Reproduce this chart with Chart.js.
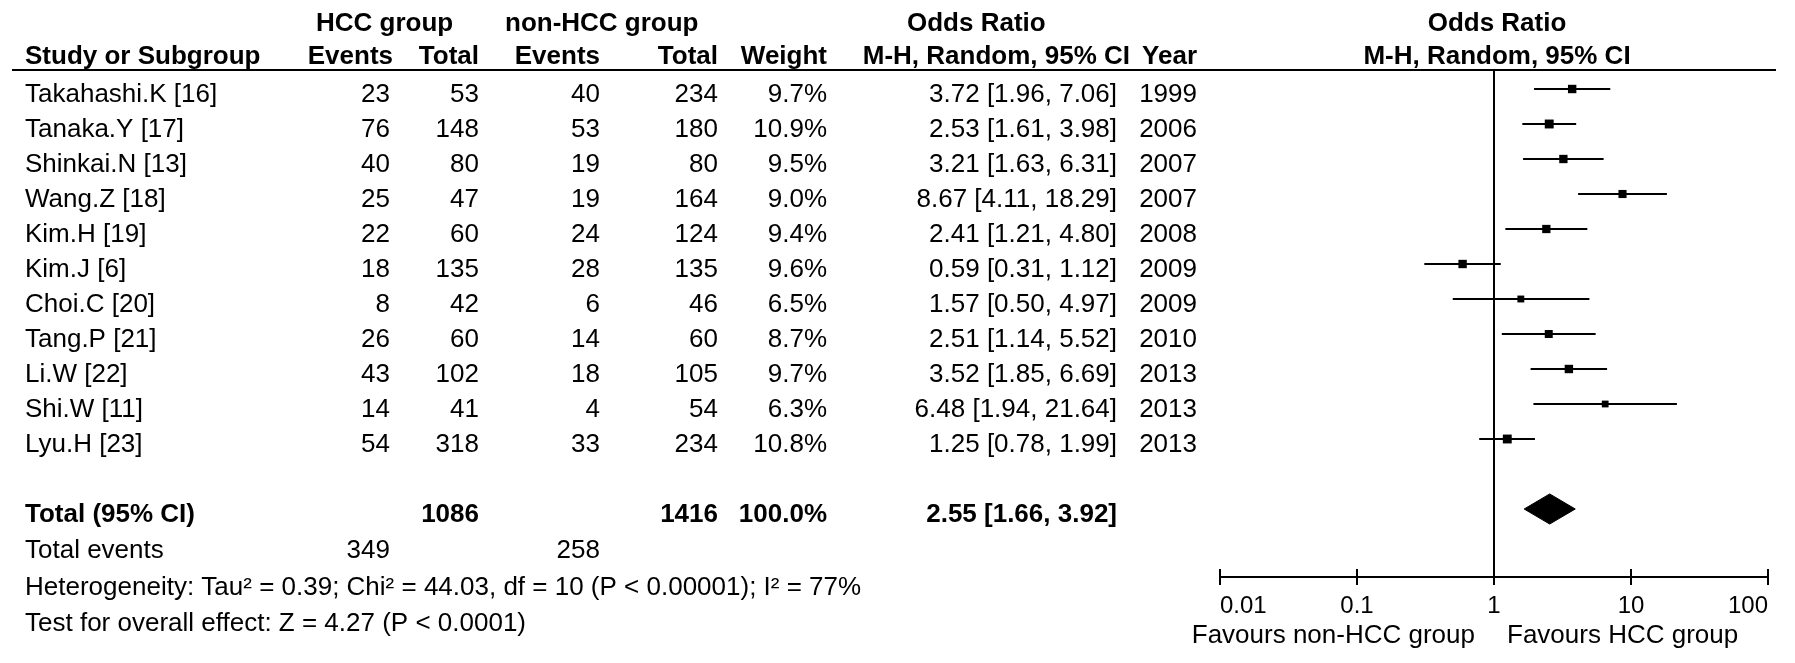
<!DOCTYPE html>
<html>
<head>
<meta charset="utf-8">
<script src="https://cdn.jsdelivr.net/npm/chart.js@4.4.0/dist/chart.umd.min.js"></script>
<style>
html,body{margin:0;padding:0;background:#fff;}
#wrap{width:1795px;height:663px;position:relative;}
</style>
</head>
<body>
<div id="wrap"><canvas id="c" width="1795" height="663"></canvas></div>
<script>
// ---------------- DATA ----------------
const studies = ["Takahashi.K [16]","Tanaka.Y [17]","Shinkai.N [13]","Wang.Z [18]","Kim.H [19]","Kim.J [6]","Choi.C [20]","Tang.P [21]","Li.W [22]","Shi.W [11]","Lyu.H [23]"];
const hccEvents = [23,76,40,25,22,18,8,26,43,14,54];
const hccTotal = [53,148,80,47,60,135,42,60,102,41,318];
const nonEvents = [40,53,19,19,24,28,6,14,18,4,33];
const nonTotal = [234,180,80,164,124,135,46,60,105,54,234];
const weights = [9.7,10.9,9.5,9.0,9.4,9.6,6.5,8.7,9.7,6.3,10.8];
const oddsRatios = [3.72,2.53,3.21,8.67,2.41,0.59,1.57,2.51,3.52,6.48,1.25];
const ciLower = [1.96,1.61,1.63,4.11,1.21,0.31,0.50,1.14,1.85,1.94,0.78];
const ciUpper = [7.06,3.98,6.31,18.29,4.80,1.12,4.97,5.52,6.69,21.64,1.99];
const years = [1999,2006,2007,2007,2008,2009,2009,2010,2013,2013,2013];
const pooled = [2.55, 1.66, 3.92];           // OR, lower, upper
const totalParticipants = [1086, 1416];       // HCC, non-HCC
const totalWeightLabel = "100.0%";
const totalEvents = [349, 258];
const tickValues = [0.01, 0.1, 1, 10, 100];
const tickLabels = ["0.01", "0.1", "1", "10", "100"];
const heterogeneityText = "Heterogeneity: Tau\u00B2 = 0.39; Chi\u00B2 = 44.03, df = 10 (P < 0.00001); I\u00B2 = 77%";
const overallText = "Test for overall effect: Z = 4.27 (P < 0.0001)";
const favourLeft = "Favours non-HCC group";
const favourRight = "Favours HCC group";

// ---------------- LAYOUT ----------------
const FONT = '"Liberation Sans", Arial, Helvetica, sans-serif';
const totalRow = studies.length + 1;
const DIAMOND_HALF = 0.43; // half height in row units

const ciSets = studies.map((s, i) => ({
  type: 'scatter',
  label: s,
  data: [{x: ciLower[i], y: i}, {x: ciUpper[i], y: i}],
  showLine: true,
  borderColor: '#000',
  borderWidth: 2,
  pointRadius: 0,
  fill: false
}));

const squareSet = {
  type: 'scatter',
  label: 'Odds ratio',
  data: oddsRatios.map((v, i) => ({x: v, y: i})),
  pointStyle: 'rect',
  pointRadius: weights.map(w => 2.7 * Math.sqrt(w) / Math.SQRT2),
  backgroundColor: '#000',
  borderColor: '#000',
  borderWidth: 0,
  showLine: false
};

const diamondSet = {
  type: 'scatter',
  label: 'Total',
  data: [
    {x: pooled[1], y: totalRow},
    {x: pooled[0], y: totalRow - DIAMOND_HALF},
    {x: pooled[2], y: totalRow},
    {x: pooled[0], y: totalRow + DIAMOND_HALF},
    {x: pooled[1], y: totalRow}
  ],
  showLine: true,
  fill: 'shape',
  backgroundColor: '#000',
  borderColor: '#000',
  borderWidth: 1,
  pointRadius: 0,
  tension: 0
};

function txt(ctx, s, x, y, align, bold, size) {
  ctx.font = (bold ? 'bold ' : '') + (size || 26) + 'px ' + FONT;
  ctx.textAlign = align || 'left';
  ctx.textBaseline = 'alphabetic';
  ctx.fillStyle = '#000';
  ctx.fillText(s, x, y);
}

const tablePlugin = {
  id: 'forestTable',
  beforeDatasetsDraw(chart) {
    const ctx = chart.ctx, xs = chart.scales.x, ca = chart.chartArea;
    ctx.save();
    ctx.strokeStyle = '#000';
    ctx.lineWidth = 2;
    // header rule
    ctx.beginPath(); ctx.moveTo(12, ca.top); ctx.lineTo(1776, ca.top); ctx.stroke();
    // line of no effect
    const x1 = xs.getPixelForValue(1);
    ctx.beginPath(); ctx.moveTo(x1, ca.top); ctx.lineTo(x1, ca.bottom); ctx.stroke();
    // axis line and ticks
    ctx.beginPath(); ctx.moveTo(ca.left, ca.bottom); ctx.lineTo(ca.right, ca.bottom); ctx.stroke();
    tickValues.forEach(v => {
      const px = xs.getPixelForValue(v);
      ctx.beginPath(); ctx.moveTo(px, ca.bottom - 8); ctx.lineTo(px, ca.bottom + 8); ctx.stroke();
    });
    ctx.restore();
  },
  afterDraw(chart) {
    const ctx = chart.ctx, xs = chart.scales.x, ys = chart.scales.y;
    ctx.save();
    // headers
    txt(ctx, 'HCC group', 316, 31, 'left', true);
    txt(ctx, 'non-HCC group', 505, 31, 'left', true);
    txt(ctx, 'Odds Ratio', 907, 31, 'left', true);
    const x1 = xs.getPixelForValue(1);
    txt(ctx, 'Odds Ratio', x1 + 3, 31, 'center', true);
    txt(ctx, 'Study or Subgroup', 25, 64, 'left', true);
    txt(ctx, 'Events', 393, 64, 'right', true);
    txt(ctx, 'Total', 479, 64, 'right', true);
    txt(ctx, 'Events', 600, 64, 'right', true);
    txt(ctx, 'Total', 718, 64, 'right', true);
    txt(ctx, 'Weight', 827, 64, 'right', true);
    txt(ctx, 'M-H, Random, 95% CI', 1130, 64, 'right', true);
    txt(ctx, 'Year', 1197, 64, 'right', true);
    txt(ctx, 'M-H, Random, 95% CI', x1 + 3, 64, 'center', true);

    // study rows
    studies.forEach((s, i) => {
      const b = ys.getPixelForValue(i) + 13;
      txt(ctx, s, 25, b, 'left');
      txt(ctx, String(hccEvents[i]), 390, b, 'right');
      txt(ctx, String(hccTotal[i]), 479, b, 'right');
      txt(ctx, String(nonEvents[i]), 600, b, 'right');
      txt(ctx, String(nonTotal[i]), 718, b, 'right');
      txt(ctx, weights[i].toFixed(1) + '%', 827, b, 'right');
      txt(ctx, oddsRatios[i].toFixed(2) + ' [' + ciLower[i].toFixed(2) + ', ' + ciUpper[i].toFixed(2) + ']', 1117, b, 'right');
      txt(ctx, String(years[i]), 1197, b, 'right');
    });

    // total row
    const tb = ys.getPixelForValue(totalRow) + 13;
    txt(ctx, 'Total (95% CI)', 25, tb, 'left', true);
    txt(ctx, String(totalParticipants[0]), 479, tb, 'right', true);
    txt(ctx, String(totalParticipants[1]), 718, tb, 'right', true);
    txt(ctx, totalWeightLabel, 827, tb, 'right', true);
    txt(ctx, pooled[0].toFixed(2) + ' [' + pooled[1].toFixed(2) + ', ' + pooled[2].toFixed(2) + ']', 1117, tb, 'right', true);

    // footer
    txt(ctx, 'Total events', 25, 558, 'left');
    txt(ctx, String(totalEvents[0]), 390, 558, 'right');
    txt(ctx, String(totalEvents[1]), 600, 558, 'right');
    txt(ctx, heterogeneityText, 25, 595, 'left');
    txt(ctx, overallText, 25, 631, 'left');

    // axis tick labels
    tickValues.forEach((v, k) => {
      const px = xs.getPixelForValue(v);
      const al = k === 0 ? 'left' : (k === tickValues.length - 1 ? 'right' : 'center');
      txt(ctx, tickLabels[k], px, 613, al, false, 24);
    });
    txt(ctx, favourLeft, x1 - 19, 643, 'right');
    txt(ctx, favourRight, x1 + 13, 643, 'left');
    ctx.restore();
  }
};

new Chart(document.getElementById('c'), {
  type: 'scatter',
  data: { datasets: [...ciSets, squareSet, diamondSet] },
  options: {
    responsive: false,
    animation: false,
    devicePixelRatio: 1,
    events: [],
    layout: { padding: { top: 70, left: 1220, right: 27, bottom: 0 } },
    plugins: { legend: { display: false }, tooltip: { enabled: false } },
    scales: {
      x: {
        type: 'logarithmic',
        position: 'bottom',
        min: tickValues[0],
        max: tickValues[tickValues.length - 1],
        ticks: { display: false },
        grid: { display: false },
        border: { display: false },
        afterFit: (scale) => { scale.height = 86; }
      },
      y: {
        type: 'linear',
        display: false,
        reverse: true,
        min: -19 / 35,
        max: -19 / 35 + 507 / 35
      }
    }
  },
  plugins: [tablePlugin]
});
</script>
</body>
</html>
